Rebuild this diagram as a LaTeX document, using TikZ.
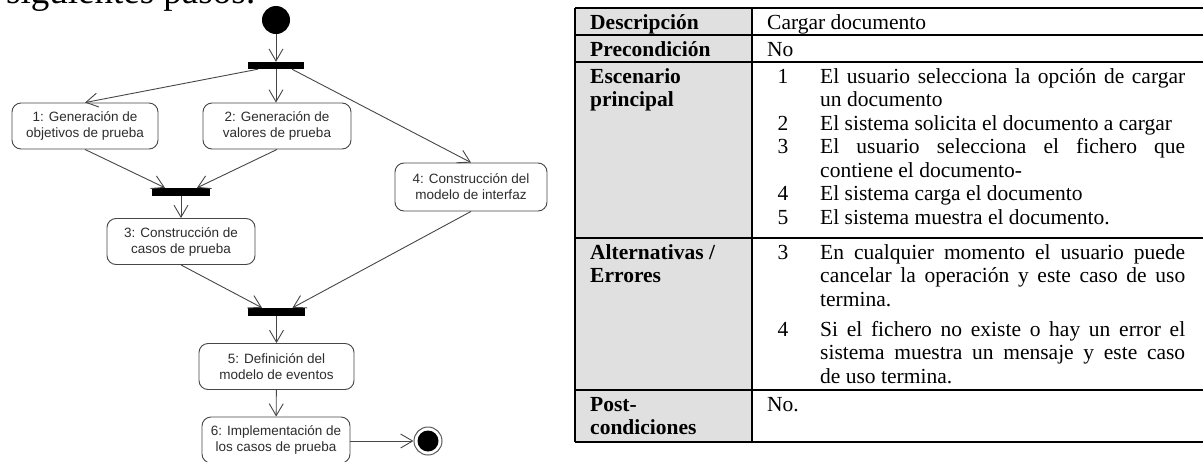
\documentclass[tikz,border=0pt]{standalone}
\usepackage{fontspec}
\setmainfont{Liberation Serif}
\newfontfamily\arialf{Liberation Sans}
\usetikzlibrary{arrows.meta}
\definecolor{linec}{RGB}{70,70,70}
\definecolor{textc}{RGB}{45,45,45}
\definecolor{cellgray}{RGB}{224,224,224}
\newcommand\actfont{\arialf\fontsize{13.5}{16}\selectfont}
\newcommand\cellfont{\fontsize{21.5}{23.5}\selectfont}
\tikzset{
  act/.style={draw=linec, rounded corners=9pt, fill=white, minimum height=46pt,
    align=center, font=\actfont, text=textc, line width=0.9pt, inner sep=0pt},
  forkbar/.style={fill=black, minimum width=56pt, minimum height=7pt, inner sep=0pt},
  flow/.style={draw=linec, line width=0.9pt, -{Straight Barb[length=12pt,width=14pt]}},
  cell/.style={anchor=base west, inner sep=0pt, font=\cellfont},
  headcell/.style={anchor=base west, inner sep=0pt, font=\cellfont\bfseries},
  numcell/.style={anchor=base, inner sep=0pt, font=\cellfont},
  grid/.style={line width=1.3pt, draw=black}
}
\begin{document}
\begin{tikzpicture}[x=1pt, y=-1pt]
\useasboundingbox (0,0) rectangle (1203,461);
% cropped text at top
\node[anchor=base west, inner sep=0pt, font=\fontsize{37}{40}\selectfont] (toptext) at (6,3) {siguientes pasos:};

% ---------- activity diagram ----------
\node[circle, fill=black, minimum size=28pt, inner sep=0pt] (ini) at (276,20) {};
\node[forkbar] (bar1) at (276,65.5) {};
\node[act, minimum width=146pt] (n1) at (85,126) {1: Generación de\\objetivos de prueba};
\node[act, minimum width=148pt] (n2) at (277,126) {2: Generación de\\valores de prueba};
\node[act, minimum width=152pt, minimum height=48pt] (n4) at (471,187) {4: Construcción del\\modelo de interfaz};
\node[forkbar, minimum width=58pt, minimum height=8pt] (bar2) at (181,192) {};
\node[act, minimum width=148pt] (n3) at (181,241.5) {3: Construcción de\\casos de prueba};
\node[forkbar, minimum width=57pt, minimum height=8pt] (bar3) at (276.5,312) {};
\node[act, minimum width=155pt] (n5) at (276.5,366.5) {5: Definición del\\modelo de eventos};
\node[act, minimum width=148pt] (n6) at (276,440) {6: Implementación de\\los casos de prueba};
\node[circle, draw=gray!70!black, line width=1pt, fill=white, minimum size=28pt, inner sep=0pt] (fin) at (428,441) {};
\node[circle, fill=black, minimum size=21pt, inner sep=0pt] (finin) at (428,441) {};

\draw[flow] (ini) -- (bar1);
\draw[flow] ([xshift=-18pt]bar1.south) -- (n1.north);
\draw[flow] (bar1.south) -- (bar1.south |- n2.north);
\draw[flow] ([xshift=16pt]bar1.south) -- (n4.north);
\draw[flow] (n1.south) -- ([xshift=-16pt]bar2.north);
\draw[flow] (n2.south) -- ([xshift=16pt]bar2.north);
\draw[flow] (bar2) -- (n3);
\draw[flow] (n3.south) -- ([xshift=-14.5pt]bar3.north);
\draw[flow] (n4.south) -- ([xshift=16pt]bar3.north);
\draw[flow] (bar3) -- (n5);
\draw[flow] (n5) -- (n6);
\draw[flow] (n6.east |- fin) -- (fin.west);

% ---------- table ----------
\fill[cellgray] (575,8) rectangle (752,442);
\draw[grid] (575,8) -- (1210,8);
\draw[grid] (575,35) -- (1210,35);
\draw[grid] (575,62) -- (1210,62);
\draw[grid] (575,238) -- (1210,238);
\draw[grid] (575,390) -- (1210,390);
\draw[grid] (575,442) -- (1210,442);
\draw[grid] (575,8) -- (575,442);
\draw[grid] (752,8) -- (752,442);
\draw[grid] (1210,8) -- (1210,442);

% left column
\node[headcell] (h1) at (590,29) {Descripción};
\node[headcell] (h2) at (590,56) {Precondición};
\node[headcell] (h3a) at (590,83) {Escenario};
\node[headcell] (h3b) at (590,106.5) {principal};
\node[headcell] (h4a) at (590,259) {Alternativas /};
\node[headcell] (h4b) at (590,282.5) {Errores};
\node[headcell] (h5a) at (590,411) {Post-};
\node[headcell] (h5b) at (590,434.5) {condiciones};

% right column
\node[cell] (c1) at (767,29) {Cargar documento};
\node[cell] (c2) at (767,56) {No};

\node[numcell] (e1) at (783,83) {1};
\node[cell] (e1a) at (820,83) {\makebox[365pt][s]{El usuario selecciona la opción de cargar}};
\node[cell] (e1b) at (820,106.5) {un documento};
\node[numcell] (e2) at (783,130) {2};
\node[cell] (e2a) at (820,130) {El sistema solicita el documento a cargar};
\node[numcell] (e3) at (783,153.5) {3};
\node[cell] (e3a) at (820,153.5) {\makebox[365pt][s]{El usuario selecciona el fichero que}};
\node[cell] (e3b) at (820,177) {contiene el documento-};
\node[numcell] (e4) at (783,200.5) {4};
\node[cell] (e4a) at (820,200.5) {El sistema carga el documento};
\node[numcell] (e5) at (783,224) {5};
\node[cell] (e5a) at (820,224) {El sistema muestra el documento.};

\node[numcell] (a3) at (783,259) {3};
\node[cell] (a3a) at (820,259) {\makebox[365pt][s]{En cualquier momento el usuario puede}};
\node[cell] (a3b) at (820,282.5) {\makebox[365pt][s]{cancelar la operación y este caso de uso}};
\node[cell] (a3c) at (820,306) {termina.};
\node[numcell] (a4) at (783,336) {4};
\node[cell] (a4a) at (820,336) {\makebox[365pt][s]{Si el fichero no existe o hay un error el}};
\node[cell] (a4b) at (820,359.5) {\makebox[365pt][s]{sistema muestra un mensaje y este caso}};
\node[cell] (a4c) at (820,383) {de uso termina.};

\node[cell] (p1) at (767,411) {No.};
\end{tikzpicture}
\end{document}
